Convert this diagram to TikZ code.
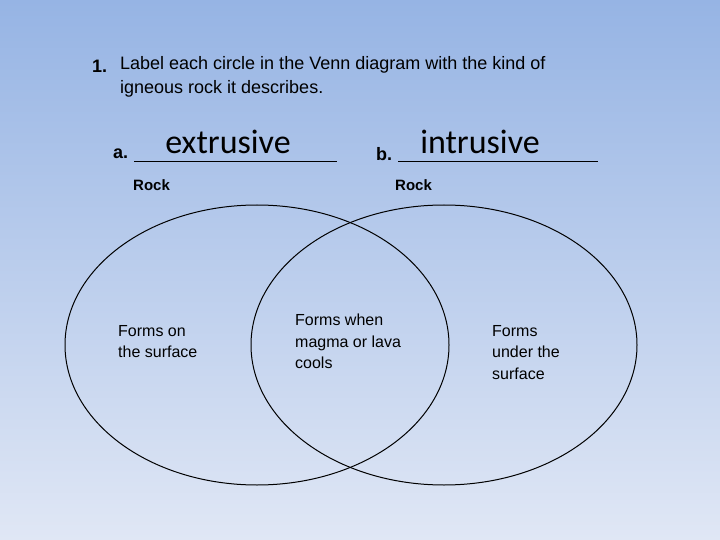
\documentclass[tikz,border=0pt]{standalone}
\usepackage{fontspec}
\setmainfont{Liberation Sans}
\newfontfamily\handfont{Carlito}
\begin{document}
\begin{tikzpicture}[x=1pt,y=-1pt,
  txt/.style={anchor=north west,align=left,inner sep=0pt,font=\fontsize{16}{21.5}\selectfont},
  hand/.style={inner sep=0pt,font=\handfont\fontsize{34}{34}\selectfont},
  rock/.style={anchor=west,inner sep=0pt,font=\bfseries\fontsize{15}{15}\selectfont}]
\shade[top color={rgb,255:red,150;green,180;blue,228},bottom color={rgb,255:red,224;green,231;blue,245}] (0,0) rectangle (720,540);
\useasboundingbox (0,0) rectangle (720,540);
\node[anchor=west,inner sep=0pt,font=\bfseries\fontsize{18}{18}\selectfont] (n1) at (92,66) {1.};
\node[txt,font=\fontsize{18}{24.5}\selectfont,anchor=west] (q) at (120,77) {Label each circle in the Venn diagram with the kind of\\igneous rock it describes.};
\node[anchor=west,inner sep=0pt,font=\bfseries\fontsize{18}{18}\selectfont] (a) at (113,154) {a.};
\node[anchor=west,inner sep=0pt,font=\bfseries\fontsize{18}{18}\selectfont] (b) at (376,154) {b.};
\coordinate (a1) at (134,161); \coordinate (a2) at (337,161);
\coordinate (b1) at (398,161); \coordinate (b2) at (598,161);
\draw[line width=0.8pt] (a1) -- (a2);
\draw[line width=0.8pt] (b1) -- (b2);
\node[hand] (ex) at (228,142) {extrusive};
\node[hand] (in) at (480,142) {intrusive};
\node[rock] (r1) at (133,185) {Rock};
\node[rock] (r2) at (395,185) {Rock};
\draw[line width=1pt] (257,345) ellipse [x radius=192,y radius=140];
\draw[line width=1pt] (444,345) ellipse [x radius=193,y radius=140];
\node[txt] (t1) at (118,325) {Forms on\\the surface};
\node[txt] (t2) at (295,314) {Forms when\\magma or lava\\cools};
\node[txt] (t3) at (492,325) {Forms\\under the\\surface};
\end{tikzpicture}
\end{document}
